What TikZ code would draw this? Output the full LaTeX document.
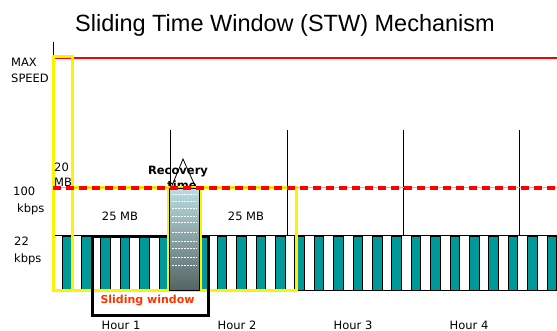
\documentclass[tikz,border=0pt]{standalone}
\usepackage{fontspec}
\setmainfont{DejaVu Sans}
\newfontfamily\titlefont{Liberation Sans}
\definecolor{tealbar}{RGB}{0,153,153}
\definecolor{slidered}{RGB}{255,51,0}
\definecolor{boxtop}{RGB}{185,222,226}
\definecolor{boxbot}{RGB}{85,100,100}
\definecolor{dashpink}{RGB}{255,160,160}
\tikzset{
  lbl/.style={font=\fontsize{11.5}{13}\selectfont, inner sep=0pt, anchor=base west},
  lblc/.style={font=\fontsize{11.5}{13}\selectfont, inner sep=0pt, anchor=base},
  barbox/.style={fill=tealbar, draw=black, line width=0.8pt},
  yel/.style={draw=yellow, line width=3pt},
  hourline/.style={draw=black, line width=0.8pt},
  dotline/.style={draw=white, line width=1pt, dash pattern=on 1.5pt off 1.5pt}
}
\begin{document}
\begin{tikzpicture}[x=1pt,y=-1pt]
\useasboundingbox[fill=white] (0,0) rectangle (557,331);
% title
\node[font=\titlefont\fontsize{23.5}{26}\selectfont, inner sep=0pt, anchor=base] (title) at (285,32) {Sliding Time Window (STW) Mechanism};
% axis
\draw[black, line width=0.8pt] (53,42) -- (53,290);
% max speed line
\draw[red, line width=1.2pt] (53,58) -- (557,58);
% hour lines
\foreach \hx [count=\i] in {170,287,403,519} {
  \coordinate (ht\i) at (\hx,130);
  \coordinate (hb\i) at (\hx,236);
  \draw[hourline] (ht\i) -- (hb\i);
}
% bars
\foreach \k in {0,...,25} {
  \draw[barbox] ({62+19.4*\k},236) rectangle ++(9.5,54);
}
\draw[black, line width=1pt] (53,236) -- (557,236);
\draw[black, line width=1pt] (53,290) -- (557,290);
% yellow rectangles
\draw[yel] (53,57) rectangle (72,290);
\draw[yel] (72,188) rectangle (296,290.5);
% left labels
\node[lbl] (max) at (11,67) {MAX};
\node[lbl] (speed) at (11,83) {SPEED};
\node[lbl] (hund) at (13,195.5) {100};
\node[lbl] (kbpsa) at (17,213) {kbps};
\node[lbl] (tt) at (14,245.5) {22};
\node[lbl] (kbpsb) at (14,262) {kbps};
\node[lbl] (twenty) at (54,171.5) {20};
\node[lbl] (mb) at (54,186.5) {MB};
\node[lblc] (mba) at (120,220.5) {25 MB};
\node[lblc] (mbb) at (246,220.5) {25 MB};
% hour labels
\node[lblc] (h1) at (121,329.5) {Hour 1};
\node[lblc] (h2) at (237,329.5) {Hour 2};
\node[lblc] (h3) at (353,329.5) {Hour 3};
\node[lblc] (h4) at (469,329.5) {Hour 4};
% sliding window
\draw[black, line width=3pt] (92,237) rectangle (208,315);
\node[lblc, font=\bfseries\fontsize{11}{13}\selectfont, text=slidered] (sw) at (147.5,303) {Sliding window};
% recovery triangle and text
\coordinate (tl) at (171,188);
\coordinate (tp) at (183,159);
\coordinate (tr) at (196,188);
\draw[black, line width=0.8pt] (tl) -- (tp) -- (tr);
\node[lblc, font=\bfseries\fontsize{11.5}{13}\selectfont] (rec) at (178,175) {Recovery};
\node[lblc, font=\bfseries\fontsize{11.5}{13}\selectfont] (tim) at (182,190) {time};
% recovery box
\draw[yel] (168,188) rectangle (200,290);
\shade[top color=boxtop, bottom color=boxbot] (169.5,188) rectangle (199,290);
\draw[black, line width=0.8pt] (169.5,188) rectangle (199,290);
\foreach \yy in {195,202,209,217,223,233,242,249,258,266} {
  \draw[dotline] (172,\yy) -- (197,\yy);
}
% 100 kbps dashed line
\draw[dashpink, line width=1pt] (53,188) -- (557,188);
\draw[red, line width=3.5pt, dash pattern=on 8pt off 5pt] (53,188) -- (557,188);
\end{tikzpicture}
\end{document}
